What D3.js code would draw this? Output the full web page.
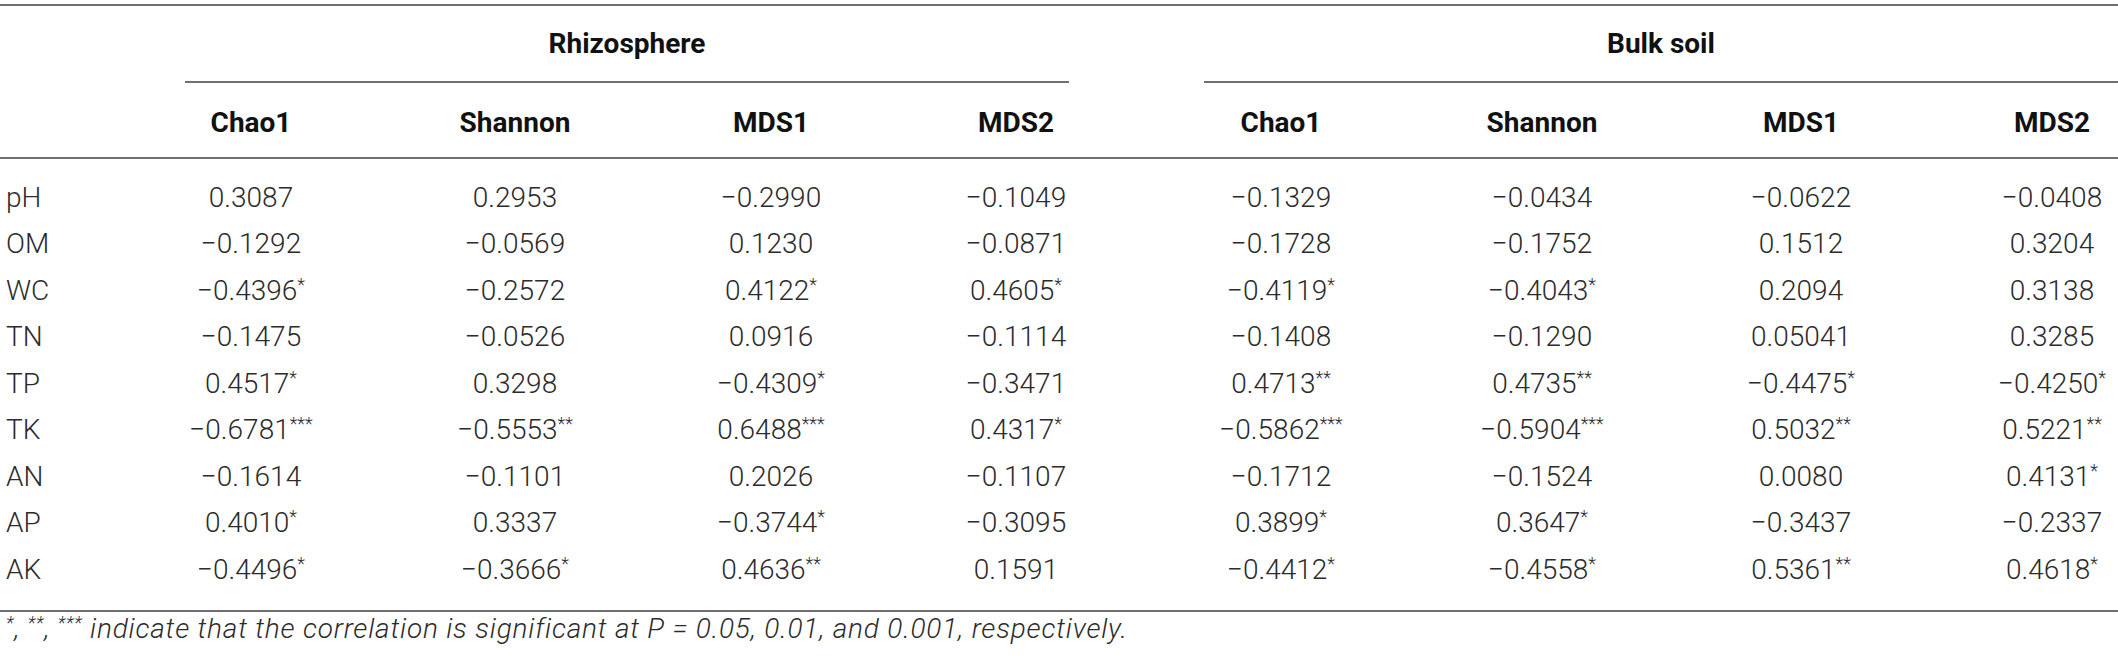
<!DOCTYPE html>
<html>
<head>
<meta charset="utf-8">
<script src="https://cdnjs.cloudflare.com/ajax/libs/d3/7.8.5/d3.min.js"></script>
<style>
  html, body { margin: 0; padding: 0; background: #fff; }
  svg text { font-family: Roboto, "Liberation Sans", Arial, sans-serif; }
</style>
</head>
<body>
<div id="chart"></div>
<script>
// table contents
const factors = ["pH", "OM", "WC", "TN", "TP", "TK", "AN", "AP", "AK"];
const groups = ["Rhizosphere", "Bulk soil"];
const metrics = ["Chao1", "Shannon", "MDS1", "MDS2"];

// values as printed, stars = significance
const rhizoChao1   = ["0.3087", "-0.1292", "-0.4396*", "-0.1475", "0.4517*", "-0.6781***", "-0.1614", "0.4010*", "-0.4496*"];
const rhizoShannon = ["0.2953", "-0.0569", "-0.2572", "-0.0526", "0.3298", "-0.5553**", "-0.1101", "0.3337", "-0.3666*"];
const rhizoMDS1    = ["-0.2990", "0.1230", "0.4122*", "0.0916", "-0.4309*", "0.6488***", "0.2026", "-0.3744*", "0.4636**"];
const rhizoMDS2    = ["-0.1049", "-0.0871", "0.4605*", "-0.1114", "-0.3471", "0.4317*", "-0.1107", "-0.3095", "0.1591"];
const bulkChao1    = ["-0.1329", "-0.1728", "-0.4119*", "-0.1408", "0.4713**", "-0.5862***", "-0.1712", "0.3899*", "-0.4412*"];
const bulkShannon  = ["-0.0434", "-0.1752", "-0.4043*", "-0.1290", "0.4735**", "-0.5904***", "-0.1524", "0.3647*", "-0.4558*"];
const bulkMDS1     = ["-0.0622", "0.1512", "0.2094", "0.05041", "-0.4475*", "0.5032**", "0.0080", "-0.3437", "0.5361**"];
const bulkMDS2     = ["-0.0408", "0.3204", "0.3138", "0.3285", "-0.4250*", "0.5221**", "0.4131*", "-0.2337", "0.4618*"];

const footnote = "indicate that the correlation is significant at P = 0.05, 0.01, and 0.001, respectively.";

const columns = [rhizoChao1, rhizoShannon, rhizoMDS1, rhizoMDS2, bulkChao1, bulkShannon, bulkMDS1, bulkMDS2];

const width = 2118, height = 657;
const lineColor = "#707070";
const textColor = "#2b2b2b";

const svg = d3.select("#chart").append("svg")
    .attr("width", width)
    .attr("height", height);

// column keys: group|metric
const colKeys = [];
groups.forEach(g => metrics.forEach(m => colKeys.push(g + "|" + m)));

// column centres (table auto layout, so not evenly spaced)
const x = d3.scaleOrdinal()
    .domain(colKeys)
    .range([251, 515, 771, 1016, 1281, 1542, 1801, 2052]);

const y = d3.scalePoint()
    .domain(factors)
    .range([197, 569]);

// group span lines
const groupX = d3.scaleOrdinal()
    .domain(groups)
    .range([[185, 1069], [1204, 2118]]);

function hline(yPos, x1, x2) {
    svg.append("line")
        .attr("x1", x1).attr("x2", x2)
        .attr("y1", yPos).attr("y2", yPos)
        .attr("stroke", lineColor)
        .attr("stroke-width", 2);
}

hline(5, 0, width);
hline(158, 0, width);
hline(611, 0, width);

groups.forEach(g => {
    const [x1, x2] = groupX(g);
    hline(82, x1, x2);
    svg.append("text")
        .attr("x", (x1 + x2) / 2)
        .attr("y", 43)
        .attr("dy", "0.35em")
        .attr("text-anchor", "middle")
        .attr("font-size", 28)
        .attr("font-weight", 700)
        .attr("fill", "#111")
        .text(g);
});

// sub headers
svg.selectAll(".metric").data(colKeys).join("text")
    .attr("class", "metric")
    .attr("x", d => x(d))
    .attr("y", 122)
    .attr("dy", "0.35em")
    .attr("text-anchor", "middle")
    .attr("font-size", 28)
    .attr("font-weight", 700)
    .attr("fill", "#111")
    .text(d => d.split("|")[1]);

// row labels
svg.selectAll(".factor").data(factors).join("text")
    .attr("class", "factor")
    .attr("x", 6)
    .attr("y", d => y(d))
    .attr("dy", "0.35em")
    .attr("font-size", 28)
    .attr("font-weight", 300)
    .attr("fill", textColor)
    .text(d => d);

// cells
const cells = [];
columns.forEach((col, ci) => col.forEach((v, ri) => {
    cells.push({ key: colKeys[ci], factor: factors[ri], num: v.replace(/\*/g, "").replace("-", "\u2212"), stars: (v.match(/\*/g) || []).join("") });
}));

const cellText = svg.selectAll(".cell").data(cells).join("text")
    .attr("class", "cell")
    .attr("x", d => x(d.key))
    .attr("y", d => y(d.factor))
    .attr("dy", "0.35em")
    .attr("text-anchor", "middle")
    .attr("font-size", 28)
    .attr("font-weight", 300)
    .attr("fill", textColor);

cellText.append("tspan").text(d => d.num);
cellText.append("tspan")
    .attr("font-size", 18)
    .attr("dy", -9)
    .text(d => d.stars);

// footnote
const fn = svg.append("text")
    .attr("x", 6)
    .attr("y", 638)
    .attr("dy", "0.35em")
    .attr("font-size", 28)
    .attr("font-style", "italic")
    .attr("font-weight", 300)
    .attr("letter-spacing", 0.8)
    .attr("fill", textColor);

["*", "**", "***"].forEach((s, i) => {
    fn.append("tspan").attr("font-size", 18).attr("dy", -9).text(s);
    fn.append("tspan").attr("dy", 9).text(i < 2 ? ", " : " ");
});
fn.append("tspan").text(footnote);
</script>
</body>
</html>
